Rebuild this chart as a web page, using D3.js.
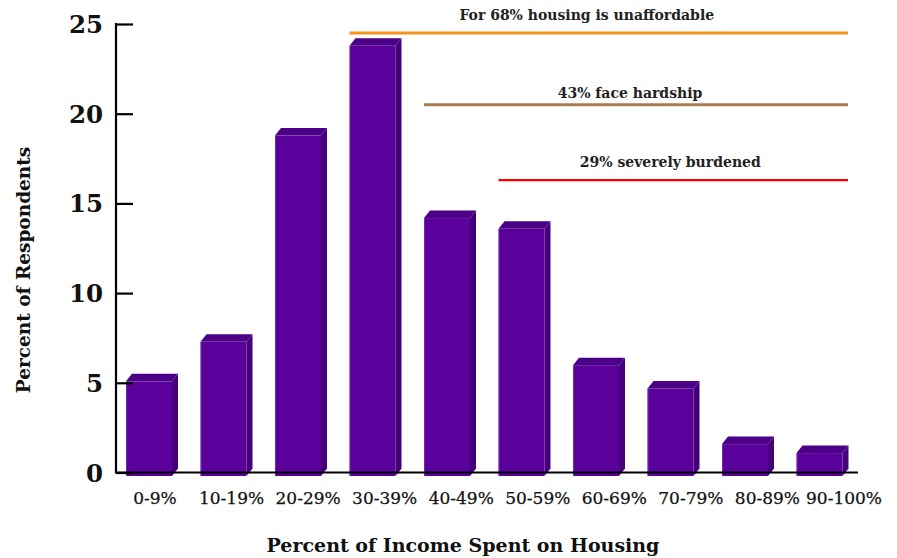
<!DOCTYPE html>
<html>
<head>
<meta charset="utf-8">
<script src="https://cdn.jsdelivr.net/npm/d3@7"></script>
<style>
  html, body { margin: 0; padding: 0; background: #fff; }
  svg { display: block; }
</style>
</head>
<body>
<svg id="chart" width="897" height="558"></svg>
<script>
// Share of respondents by percent of income spent on housing
const categories = ["0-9%", "10-19%", "20-29%", "30-39%", "40-49%", "50-59%", "60-69%", "70-79%", "80-89%", "90-100%"];
const respondents = [5.5, 7.7, 19.2, 24.2, 14.6, 14.0, 6.4, 5.1, 2.0, 1.5];
const yTicks = [0, 5, 10, 15, 20, 25];

// Burden brackets: label, first category covered, level on the value axis
const bracketLabels = ["For 68% housing is unaffordable", "43% face hardship", "29% severely burdened"];
const bracketStarts = ["30-39%", "40-49%", "50-59%"];
const bracketLevels = [24.5, 20.5, 16.3];
const bracketColors = ["#f7941d", "#a97c50", "#ff0000"];

const svg = d3.select("#chart");
const serif = "'DejaVu Serif', serif";

const plotLeft = 116, plotRight = 858, plotTop = 24, plotBottom = 472.5;
const x = d3.scaleBand().domain(categories).range([plotLeft, plotLeft + 745]);
const y = d3.scaleLinear().domain([0, 25]).range([plotBottom, plotTop]);
// category labels run a little wider than the bars
const xLabel = d3.scalePoint().domain(categories).range([155, 844]);

// 3D box geometry
const inset = 10, faceW = 46, depthX = 6, depthY = 7.5, drop = 3.5;

const bars = svg.append("g");
categories.forEach((c, i) => {
  const v = respondents[i];
  const x0 = x(c) + inset;
  const x1 = x0 + faceW;
  const backTop = y(v);
  const frontTop = backTop + depthY;
  const base = plotBottom + drop;
  // side face
  bars.append("path")
    .attr("d", `M${x1},${frontTop} L${x1 + depthX},${backTop} L${x1 + depthX},${base - depthY} L${x1},${base} Z`)
    .attr("fill", "#46007c");
  // top face
  bars.append("path")
    .attr("d", `M${x0},${frontTop} L${x0 + depthX},${backTop} L${x1 + depthX},${backTop} L${x1},${frontTop} Z`)
    .attr("fill", "#4c0088");
  // front face
  bars.append("rect")
    .attr("x", x0).attr("y", frontTop)
    .attr("width", faceW).attr("height", base - frontTop)
    .attr("fill", "#5a009b");
  // faint highlight on the front-left edge
  bars.append("line")
    .attr("x1", x0 + 0.5).attr("x2", x0 + 0.5).attr("y1", frontTop).attr("y2", base)
    .attr("stroke", "#8a55c8").attr("stroke-width", 1).attr("opacity", 0.5);
});

// Axes
const axisG = svg.append("g");
axisG.append("line")
  .attr("x1", plotLeft).attr("x2", plotLeft).attr("y1", y(25) - 1).attr("y2", plotBottom + 1)
  .attr("stroke", "#000").attr("stroke-width", 2.2);
axisG.append("line")
  .attr("x1", plotLeft).attr("x2", plotRight).attr("y1", plotBottom).attr("y2", plotBottom)
  .attr("stroke", "#000").attr("stroke-width", 2.2);

const yAxis = d3.axisRight(y).tickValues(yTicks).tickSize(17).tickFormat("");
const yg = svg.append("g").attr("transform", `translate(${plotLeft},0)`).call(yAxis);
yg.select(".domain").remove();
yg.selectAll(".tick line").attr("stroke", "#000").attr("stroke-width", 2.2);

svg.append("g").selectAll("text").data(yTicks).join("text")
  .attr("x", 103).attr("y", d => y(d) + 9)
  .attr("text-anchor", "end")
  .attr("font-family", serif).attr("font-weight", "bold").attr("font-size", 24.5)
  .attr("fill", "#111")
  .text(d => d);

svg.append("g").selectAll("text").data(categories).join("text")
  .attr("x", d => xLabel(d))
  .attr("y", 504)
  .attr("text-anchor", "middle")
  .attr("font-family", serif).attr("font-size", 17)
  .attr("fill", "#111")
  .attr("stroke", "#111").attr("stroke-width", 0.25)
  .text(d => d);

// Axis titles
svg.append("text")
  .attr("transform", "translate(30,270) rotate(-90)")
  .attr("text-anchor", "middle")
  .attr("font-family", serif).attr("font-weight", "bold").attr("font-size", 18.5)
  .attr("fill", "#111")
  .text("Percent of Respondents");

svg.append("text")
  .attr("x", 463).attr("y", 552)
  .attr("text-anchor", "middle")
  .attr("font-family", serif).attr("font-weight", "bold").attr("font-size", 19)
  .attr("fill", "#111")
  .text("Percent of Income Spent on Housing");

// Brackets
const lineEnd = plotRight - 10;
const lineWidths = [3, 3, 2.2];
const labelShift = [-12, -6, -3];
const labelGap = [13, 7, 13];
bracketLabels.forEach((label, i) => {
  const xs = x(bracketStarts[i]) + inset;
  const yl = y(bracketLevels[i]);
  svg.append("line")
    .attr("x1", xs).attr("x2", lineEnd).attr("y1", yl).attr("y2", yl)
    .attr("stroke", bracketColors[i]).attr("stroke-width", lineWidths[i]);
  svg.append("text")
    .attr("x", (xs + lineEnd) / 2 + labelShift[i])
    .attr("y", yl - labelGap[i])
    .attr("text-anchor", "middle")
    .attr("font-family", serif).attr("font-weight", "bold").attr("font-size", 14)
    .attr("fill", "#222")
    .text(label);
});
</script>
</body>
</html>
